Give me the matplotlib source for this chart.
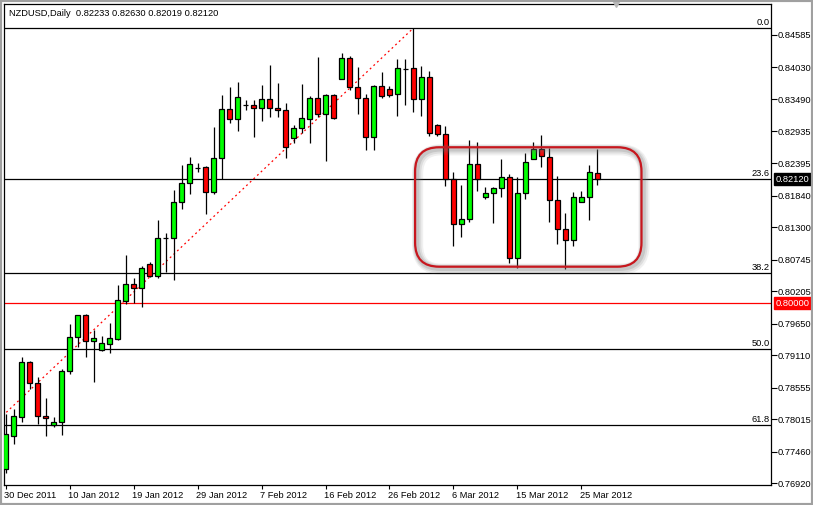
import matplotlib
matplotlib.use("Agg")
import matplotlib.pyplot as plt
from matplotlib.patches import FancyBboxPatch, Rectangle
from matplotlib.transforms import IdentityTransform, ScaledTranslation

plt.rcParams['font.family'] = ['Liberation Sans', 'DejaVu Sans']

# ---------------- data ----------------
title_text = "NZDUSD,Daily  0.82233 0.82630 0.82019 0.82120"

opens = [0.77164, 0.77728, 0.78053, 0.78993, 0.78634, 0.78070, 0.77916, 0.77967, 0.78839, 0.79421,
         0.79797, 0.79352, 0.79199, 0.79301, 0.79387, 0.80037, 0.80327, 0.80259, 0.80669, 0.80464,
         0.81110, 0.81114, 0.81729, 0.82054, 0.82311, 0.82328, 0.81900, 0.82482, 0.83320, 0.83149,
         0.83388, 0.83388, 0.83337, 0.83491, 0.83337, 0.83303, 0.82824, 0.82995, 0.83149, 0.83508,
         0.83234, 0.83559, 0.83833, 0.84192, 0.83696, 0.83508, 0.82841, 0.83713, 0.83662, 0.83576,
         0.84004, 0.84021, 0.83491, 0.83867, 0.83046, 0.82892, 0.82123, 0.81353, 0.81439, 0.82379,
         0.81815, 0.81883, 0.81969, 0.82157, 0.80772, 0.81883, 0.82465, 0.82636, 0.82499, 0.81764,
         0.81268, 0.81080, 0.81729, 0.81815, 0.82233]
highs = [0.78104, 0.78190, 0.79079, 0.79010, 0.78737, 0.78378, 0.78053, 0.78874, 0.79643, 0.79797,
         0.79814, 0.79541, 0.79438, 0.79660, 0.80310, 0.80823, 0.80430, 0.80635, 0.80703, 0.81422,
         0.81199, 0.81935, 0.82362, 0.82499, 0.82396, 0.82345, 0.83012, 0.83559, 0.83696, 0.83781,
         0.83474, 0.83474, 0.83730, 0.84072, 0.83764, 0.83422, 0.83046, 0.83747, 0.83542, 0.84209,
         0.83576, 0.83576, 0.84277, 0.84226, 0.84038, 0.83576, 0.83730, 0.83952, 0.83713, 0.84175,
         0.84175, 0.84705, 0.84055, 0.83969, 0.83063, 0.83029, 0.82242, 0.82020, 0.82790, 0.82755,
         0.81986, 0.81986, 0.82465, 0.82208, 0.82157, 0.82567, 0.82755, 0.82875, 0.82653, 0.82174,
         0.81541, 0.81900, 0.81917, 0.82362, 0.82630]
lows = [0.77095, 0.77591, 0.77967, 0.78532, 0.77933, 0.77728, 0.77882, 0.77745, 0.78788, 0.79250,
        0.79079, 0.78651, 0.79181, 0.79147, 0.79370, 0.79985, 0.80002, 0.79934, 0.80447, 0.80430,
        0.80532, 0.80396, 0.81610, 0.81866, 0.82242, 0.81524, 0.81866, 0.82123, 0.83080, 0.82943,
        0.83303, 0.82841, 0.83114, 0.83183, 0.83183, 0.82482, 0.82738, 0.82909, 0.82738, 0.83183,
        0.82430, 0.83149, 0.83833, 0.83645, 0.83234, 0.82619, 0.82619, 0.83508, 0.83525, 0.83200,
        0.83388, 0.83268, 0.83200, 0.82858, 0.82858, 0.82003, 0.80977, 0.81131, 0.81387, 0.81917,
        0.81781, 0.81370, 0.81815, 0.80686, 0.80601, 0.81781, 0.82465, 0.82328, 0.81387, 0.81011,
        0.80584, 0.80977, 0.81729, 0.81422, 0.82019]
closes = [0.77762, 0.78070, 0.78993, 0.78634, 0.78070, 0.78036, 0.77967, 0.78839, 0.79421, 0.79797,
          0.79352, 0.79404, 0.79318, 0.79404, 0.80054, 0.80327, 0.80259, 0.80601, 0.80464, 0.81114,
          0.81120, 0.81729, 0.82054, 0.82379, 0.82315, 0.81900, 0.82482, 0.83320, 0.83149, 0.83525,
          0.83392, 0.83337, 0.83491, 0.83337, 0.83303, 0.82670, 0.82995, 0.83166, 0.83508, 0.83234,
          0.83559, 0.83166, 0.84192, 0.83696, 0.83508, 0.82841, 0.83713, 0.83542, 0.83559, 0.84021,
          0.84000, 0.83491, 0.83867, 0.82909, 0.82892, 0.82123, 0.81353, 0.81439, 0.82379, 0.82123,
          0.81883, 0.81969, 0.82157, 0.80772, 0.81883, 0.82413, 0.82636, 0.82516, 0.81764, 0.81268,
          0.81080, 0.81815, 0.81815, 0.82242, 0.82120]

date_labels = ["30 Dec 2011", "10 Jan 2012", "19 Jan 2012", "29 Jan 2012", "7 Feb 2012",
               "16 Feb 2012", "26 Feb 2012", "6 Mar 2012", "15 Mar 2012", "25 Mar 2012"]
date_label_bars = [0, 8, 16, 24, 32, 40, 48, 56, 64, 72]

price_ticks = [0.84585, 0.84030, 0.83490, 0.82935, 0.82395, 0.81840, 0.81300, 0.80745,
               0.80205, 0.79650, 0.79110, 0.78555, 0.78015, 0.77460, 0.76920]

fib_high_bar, fib_high = 51, 0.84705
fib_low_bar, fib_low = -34, 0.73730
fib_levels = [0.0, 23.6, 38.2, 50.0, 61.8]

round_level = 0.80000
last_price = 0.82120

range_bars = (51.2, 79.5)
range_prices = (0.80623, 0.82665)

# ---------------- figure ----------------
W, H = 813, 505
fig = plt.figure(figsize=(W / 100, H / 100), dpi=100)
fig.patch.set_facecolor('white')
ax = fig.add_axes([4 / W, 20 / H, 767 / W, 481 / H])
ax.set_facecolor('white')
ax.set_xlim(-0.19, 95.69)
ax.set_ylim(0.76890, 0.85115)
ax.set_autoscale_on(False)

fs = 6.7

# fib levels
rng = fib_high - fib_low
for lv in fib_levels:
    price = fib_high - rng * lv / 100.0
    ax.axhline(price, color='black', lw=0.9, zorder=1)
    ax.annotate(f"{lv:.1f}", xy=(1, price), xycoords=('axes fraction', 'data'),
                xytext=(-1, 1), textcoords='offset pixels', ha='right', va='bottom',
                fontsize=fs, color='black')
# fib trend line (dotted red)
ax.plot([fib_low_bar, fib_high_bar], [fib_low, fib_high], color='red', lw=0.9,
        linestyle=(0, (1.5, 2.5)), zorder=1)

# round number line
ax.axhline(round_level, color='red', lw=0.9, zorder=1)

# candles
xs = list(range(len(opens)))
ax.vlines(xs, lows, highs, color='black', lw=0.9, zorder=2)
bottoms = [min(o, c) for o, c in zip(opens, closes)]
heights = [abs(c - o) for o, c in zip(opens, closes)]
colors = ['#00ff00' if c > o else '#ff0000' for o, c in zip(opens, closes)]
ax.bar(xs, heights, bottom=bottoms, width=0.62, color=colors, edgecolor='black',
       linewidth=0.9, zorder=3)

# axes styling
for s in ax.spines.values():
    s.set_color('black')
    s.set_linewidth(0.9)
ax.yaxis.tick_right()
ax.set_yticks(price_ticks)
ax.set_yticklabels([f"{t:.5f}" for t in price_ticks])
ax.tick_params(axis='y', direction='out', length=4, width=0.8, pad=1, labelsize=fs, colors='black')
ax.set_xticks(date_label_bars)
ax.set_xticklabels(date_labels)
ax.tick_params(axis='x', direction='out', length=3, width=0.8, pad=1.5, labelsize=fs, colors='black')
for lab in ax.get_xticklabels():
    lab.set_horizontalalignment('left')
    lab.set_transform(lab.get_transform() + ScaledTranslation(-1.5 / 100, 0, fig.dpi_scale_trans))

# price boxes on the scale
ax.annotate(f"{last_price:.5f}", xy=(1, last_price), xycoords=('axes fraction', 'data'),
            xytext=(5, 0), textcoords='offset pixels', ha='left', va='center',
            fontsize=fs, color='white', annotation_clip=False,
            bbox=dict(boxstyle='square,pad=0.18', fc='black', ec='black'))
ax.annotate(f"{round_level:.5f}", xy=(1, round_level), xycoords=('axes fraction', 'data'),
            xytext=(5, 0), textcoords='offset pixels', ha='left', va='center',
            fontsize=fs, color='white', annotation_clip=False,
            bbox=dict(boxstyle='square,pad=0.18', fc='#ff0000', ec='#ff0000'))

# title
ax.annotate(title_text, xy=(0, 1), xycoords='axes fraction', xytext=(5, -9),
            textcoords='offset pixels', ha='left', va='center', fontsize=fs, color='black')

# chart shift marker
ax.plot([0.798], [1.0], marker='v', ms=4, color='#b8b8b8', transform=ax.transAxes,
        clip_on=False, zorder=5)

# rounded range box (in pixel space, anchored to data)
(x0, y0) = ax.transData.transform((range_bars[0], range_prices[0]))
(x1, y1) = ax.transData.transform((range_bars[1], range_prices[1]))
for lw, a, off in [(8, 0.10, 2.5), (6, 0.14, 2.0), (4, 0.20, 1.5)]:
    sh = FancyBboxPatch((x0 + off, y0 - off), x1 - x0, y1 - y0,
                        boxstyle="round,pad=0,rounding_size=24", transform=IdentityTransform(),
                        ec='#707070', fc='none', lw=lw, alpha=a, zorder=4)
    fig.add_artist(sh)
box = FancyBboxPatch((x0, y0), x1 - x0, y1 - y0, boxstyle="round,pad=0,rounding_size=24",
                     transform=IdentityTransform(), ec='#c8171e', fc='none', lw=1.6, zorder=5)
fig.add_artist(box)

# window border
fig.add_artist(Rectangle((0, 0), 1, 1, transform=fig.transFigure, fill=False,
                         ec='#a0a0a0', lw=3, zorder=10))

fig.savefig("out.png", dpi=100, facecolor='white')
